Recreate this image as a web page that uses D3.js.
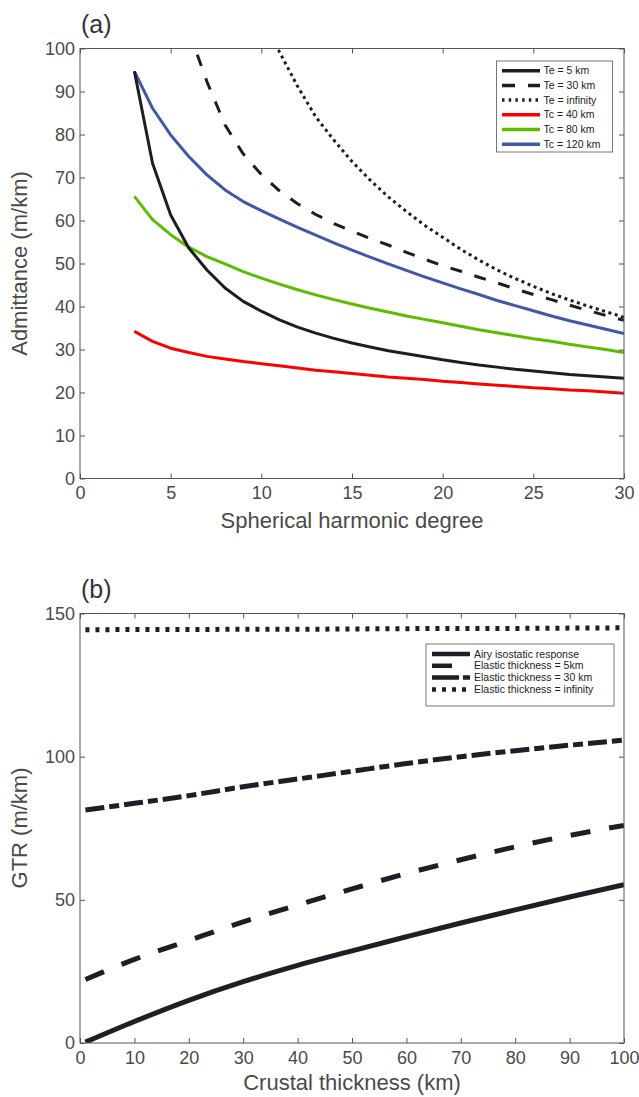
<!DOCTYPE html>
<html>
<head>
<meta charset="utf-8">
<script src="https://cdn.jsdelivr.net/npm/d3@7"></script>
<style>
  html, body { margin: 0; padding: 0; background: #fff; }
  svg { display: block; font-family: "Liberation Sans", Arial, Helvetica, sans-serif; }
</style>
</head>
<body>
<svg id="chart" width="639" height="1097"></svg>
<script>
// ---------- Panel (a) data ----------
const degrees = d3.range(3, 31);
const te5 = [94.7,73.3,61.3,53.6,48.5,44.3,41.2,38.9,36.9,35.2,33.8,32.6,31.5,30.6,29.7,29.0,28.3,27.6,27.0,26.4,25.9,25.4,25.0,24.6,24.2,23.9,23.6,23.3];
const te30Deg = d3.range(6, 31);
const te30 = [104,92.3,82.2,75.5,70.7,66.9,63.9,61.4,59.3,57.5,55.8,54.3,52.6,51.0,49.5,48.2,46.8,45.5,44.1,42.8,41.6,40.3,39.1,37.9,36.8];
const teInfDeg = d3.range(10, 31);
const teInf = [108,99.2,91.2,84.1,78.7,73.7,69.4,65.5,62.1,58.9,56.1,53.3,50.8,48.5,46.5,44.7,43.0,41.5,40.1,38.8,37.5];
const tc40 = [34.2,31.9,30.3,29.3,28.4,27.8,27.2,26.7,26.2,25.7,25.2,24.8,24.4,24.0,23.6,23.3,23.0,22.6,22.3,22.0,21.7,21.4,21.1,20.9,20.6,20.4,20.1,19.8];
const tc80 = [65.6,60.2,56.7,53.8,51.6,49.9,48.1,46.6,45.2,43.9,42.7,41.6,40.6,39.6,38.7,37.8,37.0,36.2,35.4,34.6,33.9,33.2,32.5,31.9,31.2,30.6,30.0,29.3];
const tc120 = [94.7,86.1,79.9,74.9,70.6,67.1,64.4,62.3,60.3,58.4,56.6,54.8,53.1,51.5,49.9,48.4,46.9,45.5,44.1,42.8,41.4,40.2,39.0,37.8,36.7,35.7,34.7,33.7];
const aLabels = ["Te = 5 km","Te = 30 km","Te = infinity","Tc = 40 km","Tc = 80 km","Tc = 120 km"];
const aXTicks = [0,5,10,15,20,25,30];
const aYTicks = [0,10,20,30,40,50,60,70,80,90,100];

// ---------- Panel (b) data ----------
const crust = [1,10,20,30,40,50,60,70,80,90,100];
const airy = [0.3,7.5,14.9,21.4,27.1,32.2,37.1,41.9,46.5,51.0,55.3];
const el5 = [81.4,83.7,86.4,89.5,92.2,94.9,97.6,100.0,102.1,104.0,105.8];
const el30 = [22.2,29.2,35.8,42.3,48.2,53.8,59.2,64.0,68.5,72.5,76.0];
const elInf = [144.3,144.4,144.4,144.5,144.5,144.6,144.7,144.8,144.8,144.9,145.0];
const bLabels = ["Airy isostatic response","Elastic thickness = 5km","Elastic thickness = 30 km","Elastic thickness = infinity"];
const bXTicks = d3.range(0, 101, 10);
const bYTicks = [0,50,100,150];

const svg = d3.select("#chart");
const AX = "#555";
const TXT = "#4a4a4a";

function frame(g, x, y, xt, yt) {
  const [x0, x1] = x.range();
  const [y0, y1] = y.range();
  g.append("g").attr("transform", `translate(0,${y0})`)
    .call(d3.axisBottom(x).tickValues(xt).tickSizeInner(-5).tickSizeOuter(0).tickPadding(8))
    .call(s => s.select(".domain").remove());
  g.append("g").attr("transform", `translate(0,${y1})`)
    .call(d3.axisTop(x).tickValues(xt).tickSizeInner(-5).tickSizeOuter(0).tickFormat(""))
    .call(s => s.select(".domain").remove());
  g.append("g").attr("transform", `translate(${x0},0)`)
    .call(d3.axisLeft(y).tickValues(yt).tickSizeInner(-5).tickSizeOuter(0).tickPadding(5))
    .call(s => s.select(".domain").remove());
  g.append("g").attr("transform", `translate(${x1},0)`)
    .call(d3.axisRight(y).tickValues(yt).tickSizeInner(-5).tickSizeOuter(0).tickFormat(""))
    .call(s => s.select(".domain").remove());
  g.selectAll(".tick line").attr("stroke", AX);
  g.selectAll(".tick text").attr("fill", TXT).attr("font-size", 18)
    .attr("font-family", "'Liberation Sans', Arial, sans-serif");
  g.append("rect").attr("x", x0).attr("y", y1).attr("width", x1 - x0).attr("height", y0 - y1)
    .attr("fill", "none").attr("stroke", AX).attr("stroke-width", 1);
}

// ================= Panel (a) =================
const xa = d3.scaleLinear().domain([0, 30]).range([80, 624]);
const ya = d3.scaleLinear().domain([0, 100]).range([478.5, 48.5]);
const ga = svg.append("g");
ga.append("clipPath").attr("id", "clipA").append("rect")
  .attr("x", 80).attr("y", 48.5).attr("width", 544).attr("height", 430);

const lineA = d3.line().x(d => xa(d[0])).y(d => ya(d[1]));
const seriesA = [
  {deg: degrees, v: te5, color: "#1d1e22", w: 3, dash: null},
  {deg: te30Deg, v: te30, color: "#1d1e22", w: 3, dash: "12,13"},
  {deg: teInfDeg, v: teInf, color: "#1d1e22", w: 3, dash: "3,3.6"},
  {deg: degrees, v: tc40, color: "#ff0000", w: 3, dash: null},
  {deg: degrees, v: tc80, color: "#5cbd00", w: 3, dash: null},
  {deg: degrees, v: tc120, color: "#4158a8", w: 3, dash: null}
];
const plotA = ga.append("g").attr("clip-path", "url(#clipA)");
[3,4,5,0,1,2].forEach(i => {
  const s = seriesA[i];
  plotA.append("path").datum(s.deg.map((d, j) => [d, s.v[j]]))
    .attr("d", lineA).attr("fill", "none").attr("stroke", s.color)
    .attr("stroke-width", s.w).attr("stroke-dasharray", s.dash)
    .attr("stroke-linejoin", "round");
});
frame(ga, xa, ya, aXTicks, aYTicks);

ga.append("text").attr("x", 352).attr("y", 528).attr("text-anchor", "middle")
  .attr("font-size", 22).attr("fill", TXT).text("Spherical harmonic degree");
ga.append("text").attr("transform", "translate(27,263.5) rotate(-90)").attr("text-anchor", "middle")
  .attr("font-size", 22).attr("fill", TXT).text("Admittance (m/km)");
ga.append("text").attr("x", 81).attr("y", 33).attr("font-size", 25).attr("fill", "#333").text("(a)");

// legend (a)
const legA = ga.append("g");
legA.append("rect").attr("x", 496.5).attr("y", 61).attr("width", 116).attr("height", 91)
  .attr("fill", "#fff").attr("stroke", "#777").attr("stroke-width", 1);
const legDashA = [null, "13,13", "2.5,4.2", null, null, null];
aLabels.forEach((lab, i) => {
  const yy = 70.7 + i * 14.7;
  legA.append("line").attr("x1", 502).attr("x2", 540).attr("y1", yy).attr("y2", yy)
    .attr("stroke", seriesA[i].color).attr("stroke-width", 3.5).attr("stroke-dasharray", legDashA[i]);
  legA.append("text").attr("x", 543.5).attr("y", yy).attr("dy", "0.35em")
    .attr("font-size", 10.5).attr("fill", "#222").text(lab);
});

// ================= Panel (b) =================
const xb = d3.scaleLinear().domain([0, 100]).range([80, 624]);
const yb = d3.scaleLinear().domain([0, 150]).range([1043, 613.5]);
const gb = svg.append("g");
gb.append("clipPath").attr("id", "clipB").append("rect")
  .attr("x", 80).attr("y", 613.5).attr("width", 544).attr("height", 429.5);
const lineB = d3.line().x(d => xb(d[0])).y(d => yb(d[1])).curve(d3.curveMonotoneX);
const seriesB = [
  {v: airy, dash: null},
  {v: el5, dash: "19,5,10,5"},
  {v: el30, dash: "20,19"},
  {v: elInf, dash: "4,6"}
];
const plotB = gb.append("g").attr("clip-path", "url(#clipB)");
seriesB.forEach(s => {
  plotB.append("path").datum(crust.map((c, j) => [c, s.v[j]]))
    .attr("d", lineB).attr("fill", "none").attr("stroke", "#1e1f24")
    .attr("stroke-width", 5).attr("stroke-dasharray", s.dash);
});
frame(gb, xb, yb, bXTicks, bYTicks);

gb.append("text").attr("x", 352).attr("y", 1090).attr("text-anchor", "middle")
  .attr("font-size", 22).attr("fill", TXT).text("Crustal thickness (km)");
gb.append("text").attr("transform", "translate(27,828) rotate(-90)").attr("text-anchor", "middle")
  .attr("font-size", 22).attr("fill", TXT).text("GTR (m/km)");
gb.append("text").attr("x", 81).attr("y", 598).attr("font-size", 25).attr("fill", "#333").text("(b)");

// legend (b)
const legB = gb.append("g");
legB.append("rect").attr("x", 426).attr("y", 644).attr("width", 188).attr("height", 62)
  .attr("fill", "#fff").attr("stroke", "#777").attr("stroke-width", 1);
const legDashB = [null, "20,100", "27,4,8,100", "4,6"];
bLabels.forEach((lab, i) => {
  const yy = 654 + i * 11.8;
  legB.append("line").attr("x1", 432).attr("x2", 470).attr("y1", yy).attr("y2", yy)
    .attr("stroke", "#1e1f24").attr("stroke-width", 4.5).attr("stroke-dasharray", legDashB[i]);
  legB.append("text").attr("x", 474).attr("y", yy).attr("dy", "0.35em")
    .attr("font-size", 10.5).attr("fill", "#222").text(lab);
});
</script>
</body>
</html>
